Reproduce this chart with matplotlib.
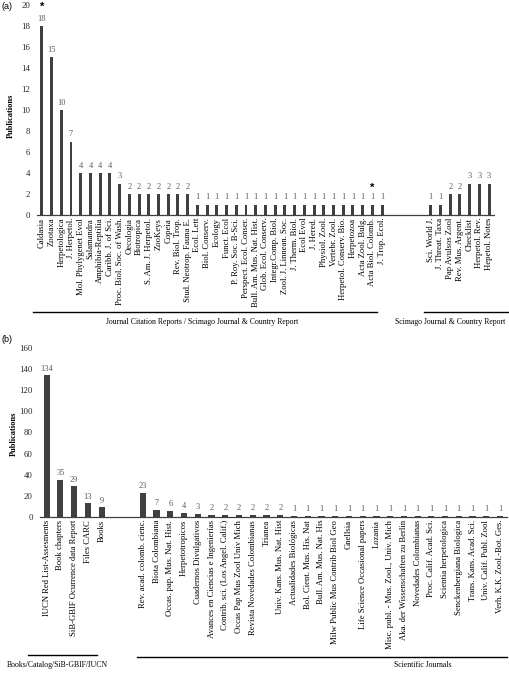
import matplotlib
matplotlib.use("Agg")
import matplotlib.pyplot as plt
import matplotlib.transforms as mtransforms
from matplotlib.lines import Line2D

SERIF = ["Liberation Serif", "DejaVu Serif"]
SANS = ["Liberation Sans", "DejaVu Sans"]

# ---------------- Panel (a) data ----------------
a_group1_labels = ["Caldasia", "Zootaxa", "Herpetologica", "J. Herpetol.", "Mol. Phylygenet Evol",
                   "Salamandra", "Amphibia-Reptilia", "Caribb. J. of Sci.", "Proc. Biol. Soc. of Wash.",
                   "Oecologia", "Biotropica", "S. Am. J. Herpetol.", "ZooKeys", "Copeia",
                   "Rev. Biol. Trop.", "Stud. Neotrop. Fauna E.", "Ecol. Lett", "Biol. Conserv.",
                   "Ecology", "Funct. Ecol", "P. Roy. Soc. B-Sci.", "Perspect. Ecol. Conser.",
                   "Bull. Am. Mus. Nat. Hist.", "Glob. Ecol. Conserv.", "Integr.Comp. Biol.",
                   "Zool. J. Linnean. Soc.", "J. Therm. Biol.", "Ecol Evol", "J. Hered.",
                   "Physiol. Zool.", "Vertebr. Zool.", "Herpetol. Conserv. Bio.", "Herpetozoa",
                   "Acta Zool. Bulg.", "Acta Biol. Colomb.", "J. Trop. Ecol."]
a_group1_values = [18, 15, 10, 7, 4, 4, 4, 4, 3, 2, 2, 2, 2, 2, 2, 2,
                   1, 1, 1, 1, 1, 1, 1, 1, 1, 1, 1, 1, 1, 1, 1, 1, 1, 1, 1, 1]
a_group2_labels = ["Sci. World J.", "J. Threat. Taxa", "Pap Avulsos Zool", "Rev. Mus. Argent.",
                   "Checklist", "Herpetol. Rev.", "Hepetol. Notes"]
a_group2_values = [1, 1, 2, 2, 3, 3, 3]
a_gap = 4
a_star_labels = ["Caldasia", "Acta Biol. Colomb."]
a_star_values = [19.8, 2.6]
a_group_titles = ["Journal Citation Reports / Scimago Journal & Country Report",
                  "Scimago Journal & Country Report"]

# ---------------- Panel (b) data ----------------
b_group1_labels = ["IUCN Red List-Assesments", "Book chapters", "SiB-GBIF Ocurrence data Report",
                   "Files CARC", "Books"]
b_group1_values = [134, 35, 29, 13, 9]
b_group2_labels = ["Rev. acad. colomb. cienc.", "Biota Colombiana", "Occas. pap. Mus. Nat. Hist.",
                   "Herpetotropicos", "Cuadernos Divulgativos", "Avances en Ciencias e Ingenierías",
                   "Contrib. sci. (Los Angel. Calif.)", "Occas Pap Mus Zool Univ Mich",
                   "Revista Novedades Colombianas", "Trianea", "Univ. Kans. Mus. Nat. Hist",
                   "Actualidades Biológicas", "Bol. Cient. Mus. His. Nat", "Bull. Am. Mus. Nat. His",
                   "Milw Public Mus Contrib Biol Geo", "Gnellsia", "Life Science Occasional papers",
                   "Lozania", "Misc. publ. - Mus. Zool., Univ. Mich", "Aka. der Wissenschaften zu Berlin",
                   "Novedades Colombianas", "Proc. Calif. Acad. Sci.", "Scientia herpetologica",
                   "Senckenbergiana Biologica", "Trans. Kans. Acad. Sci.", "Univ. Calif. Publ. Zool",
                   "Verh. K.K. Zool.-Bot. Ges."]
b_group2_values = [23, 7, 6, 4, 3, 2, 2, 2, 2, 2, 2,
                   1, 1, 1, 1, 1, 1, 1, 1, 1, 1, 1, 1, 1, 1, 1, 1]
b_gap = 2
b_group_titles = ["Books/Catalog/SiB-GBIF/IUCN", "Scientific Journals"]

BAR = "#404040"
VAL = "#595959"

fig = plt.figure(figsize=(5.10, 6.73), dpi=100)


def build(g1l, g1v, gap, g2l, g2v):
    labels = list(g1l) + [""] * gap + list(g2l)
    xs1 = list(range(len(g1l)))
    xs2 = list(range(len(g1l) + gap, len(g1l) + gap + len(g2l)))
    return labels, xs1, xs2


def style(ax, ymax, ystep, tickfs):
    for s in ["top", "right", "left"]:
        ax.spines[s].set_visible(False)
    ax.spines["bottom"].set_color("#404040")
    ax.spines["bottom"].set_linewidth(0.9)
    ax.set_ylim(0, ymax)
    ax.set_yticks(range(0, ymax + 1, ystep))
    ax.tick_params(axis="y", length=0, pad=5, labelsize=tickfs, labelcolor="#262626")
    ax.tick_params(axis="x", length=0, pad=2)
    for t in ax.get_yticklabels():
        t.set_fontfamily(SERIF)


# ---------- Panel (a) ----------
axa = fig.add_axes([0.0725, 0.6805, 0.896, 0.3121])
labels, xs1, xs2 = build(a_group1_labels, a_group1_values, a_gap,
                         a_group2_labels, a_group2_values)
xs = xs1 + xs2
vals = a_group1_values + a_group2_values
axa.bar(xs, vals, width=0.3, color=BAR)
axa.set_xlim(-0.5, len(labels) - 0.5)
style(axa, 20, 2, 6.3)
axa.set_xticks(xs)
axa.set_xticklabels(a_group1_labels + a_group2_labels, rotation=90, fontfamily=SERIF,
                    fontsize=6.2, ha="center", va="top")
for x, v in zip(xs, vals):
    axa.text(x, v + 0.3, str(v), ha="center", va="bottom", fontsize=6, color=VAL,
             fontfamily=SERIF)
allA = a_group1_labels + a_group2_labels
for lab, yv in zip(a_star_labels, a_star_values):
    axa.text(xs[allA.index(lab)], yv, "*", ha="center", va="center", fontsize=8,
             fontweight="bold", color="black", fontfamily=SANS)
axa.set_ylabel("Publications", fontfamily=SERIF, fontweight="bold", fontsize=6)
axa.yaxis.set_label_coords(-0.048, 0.47)

tra = mtransforms.blended_transform_factory(axa.transData, axa.transAxes)
a_spans = [(xs1[0] - 0.95, xs1[-1] - 0.5), (xs2[0] - 0.7, xs2[-1] + 2.0)]
a_text_x = [(a_spans[0][0] + a_spans[0][1]) / 2 - 0.3, xs2[0] + 2.0]
for (x0, x1), tx, title in zip(a_spans, a_text_x, a_group_titles):
    axa.add_line(Line2D([x0, x1], [-0.46, -0.46], transform=tra, color="black",
                        lw=1.0, clip_on=False))
    axa.text(tx, -0.51, title, transform=tra, ha="center", va="center",
             fontsize=5.6, fontfamily=SERIF)

fig.text(0.002, 0.991, "(a)", fontfamily=SANS, fontsize=6.5, ha="left", va="center")

# ---------- Panel (b) ----------
axb = fig.add_axes([0.078, 0.2318, 0.916, 0.2516])
labels, xs1, xs2 = build(b_group1_labels, b_group1_values, b_gap,
                         b_group2_labels, b_group2_values)
xs = xs1 + xs2
vals = b_group1_values + b_group2_values
axb.bar(xs, vals, width=0.45, color=BAR)
axb.set_xlim(-0.5, len(labels) - 0.5)
style(axb, 160, 20, 6.3)
axb.set_xticks(xs)
axb.set_xticklabels(b_group1_labels + b_group2_labels, rotation=90, fontfamily=SERIF,
                    fontsize=6.2, ha="center", va="top")
for x, v in zip(xs, vals):
    axb.text(x, v + 2.5, str(v), ha="center", va="bottom", fontsize=6, color=VAL,
             fontfamily=SERIF)
axb.set_ylabel("Publications", fontfamily=SERIF, fontweight="bold", fontsize=6)
axb.yaxis.set_label_coords(-0.047, 0.49)

trb = mtransforms.blended_transform_factory(axb.transData, axb.transAxes)
b_spans = [(xs1[0] - 1.35, xs1[-1] - 0.3), (xs2[0] - 0.4, xs2[-1] + 0.5)]
b_line_y = [-0.815, -0.825]
b_text_x = [(b_spans[0][0] + b_spans[0][1]) / 2 - 0.4, xs2[0] + 20.4]
for (x0, x1), ly, tx, title in zip(b_spans, b_line_y, b_text_x, b_group_titles):
    axb.add_line(Line2D([x0, x1], [ly, ly], transform=trb, color="black",
                        lw=1.0, clip_on=False))
    axb.text(tx, -0.874, title, transform=trb, ha="center", va="center",
             fontsize=5.6, fontfamily=SERIF)

fig.text(0.002, 0.496, "(b)", fontfamily=SANS, fontsize=6.5, ha="left", va="center")

fig.savefig("out.png", dpi=100, facecolor="white")
